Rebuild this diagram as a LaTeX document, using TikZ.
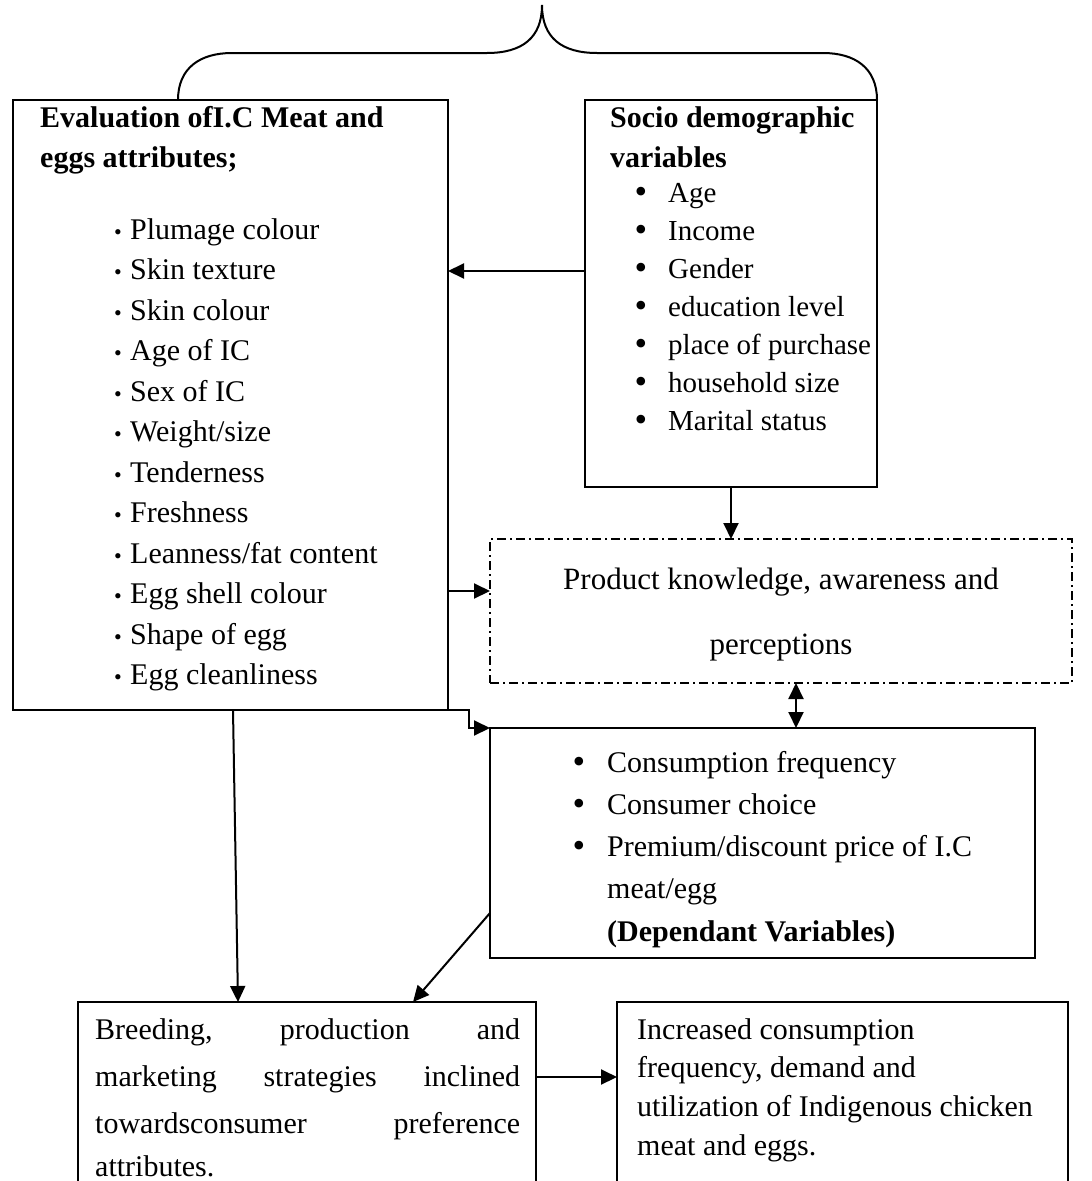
\documentclass[tikz,border=0pt]{standalone}
\usepackage{fontspec}
\setmainfont{Liberation Serif}
\usetikzlibrary{arrows.meta}
\tikzset{
  box/.style={draw,line width=2pt,outer sep=0pt,inner sep=0pt,anchor=north west},
  frame/.style={outer sep=0pt,inner sep=0pt,anchor=north west},
  conn/.style={line width=2pt,-{Triangle[length=16pt,width=15pt]}},
  dconn/.style={line width=2pt,{Triangle[length=16pt,width=15pt]}-{Triangle[length=16pt,width=15pt]}},
  txt/.style={anchor=base west,inner sep=0pt,font=\fontsize{30}{40}\selectfont},
  stxt/.style={anchor=base west,inner sep=0pt,font=\fontsize{29}{40}\selectfont},
  btxt/.style={txt,font=\fontsize{30}{40}\selectfont\bfseries},
  sbul/.style={anchor=base,inner sep=0pt,font=\fontsize{22}{26}\selectfont},
  bbul/.style={anchor=base,inner sep=0pt,font=\fontsize{36}{40}\selectfont},
  dashbox/.style={draw,line width=1.5pt,outer sep=0pt,inner sep=0pt,anchor=north west,dash pattern=on 9pt off 4pt on 2pt off 4pt}
}
\begin{document}
\begin{tikzpicture}[x=1pt,y=-1pt]
\useasboundingbox (0,0) rectangle (1092,1181);
\clip (0,0) rectangle (1092,1181);
% brace
\draw[line width=2pt] (178,100) .. controls (178,68) and (200,53) .. (232,53) -- (487,53)
  .. controls (522,53) and (542,38) .. (542,5)
  .. controls (542,38) and (562,53) .. (597,53) -- (823,53)
  .. controls (855,53) and (877,68) .. (877,100);
% boxes
\node[box,minimum width=435pt,minimum height=610pt] (eval) at (13,100) {};
\node[box,minimum width=292pt,minimum height=387pt] (socio) at (585,100) {};
\node[dashbox,minimum width=582pt,minimum height=144pt] (know) at (490,539) {};
\node[box,minimum width=545pt,minimum height=230pt] (dep) at (490,728) {};
\node[frame,minimum width=458pt,minimum height=180pt] (breed) at (78,1002) {};
\draw[line width=2pt] (78,1200) -- (breed.north west) -- (breed.north east) -- (536,1200);
\node[frame,minimum width=451pt,minimum height=180pt] (incr) at (617,1002) {};
\draw[line width=2pt] (617,1200) -- (incr.north west) -- (incr.north east) -- (1068,1200);
% texts: evaluation box
\node[btxt] (e1) at (40,127) {Evaluation ofI.C Meat and};
\node[btxt] (e2) at (40,167) {eggs attributes;};
\foreach \t [count=\i] in {Plumage colour,Skin texture,Skin colour,Age of IC,Sex of IC,Weight/size,Tenderness,Freshness,Leanness/fat content,Egg shell colour,Shape of egg,Egg cleanliness}{
  \node[sbul] (eb\i) at (118,{239+40.5*(\i-1)}) {•};
  \node[txt] (et\i) at (130,{239+40.5*(\i-1)}) {\t};
}
% socio box
\node[btxt] (s1) at (610,127) {Socio demographic};
\node[btxt] (s2) at (610,167) {variables};
\foreach \t [count=\i] in {Age,Income,Gender,education level,place of purchase,household size,Marital status}{
  \node[bbul] (sb\i) at (641,{203+38*(\i-1)}) {•};
  \node[stxt] (st\i) at (668,{202+38*(\i-1)}) {\t};
}
% knowledge box
\node[txt,anchor=base,font=\fontsize{31}{40}\selectfont] (k1) at (781,589) {Product knowledge, awareness and};
\node[txt,anchor=base,font=\fontsize{31}{40}\selectfont] (k2) at (781,654) {perceptions};
% dependent box
\node[bbul] (db1) at (579,773) {•};
\node[txt] (dt1) at (607,772) {Consumption frequency};
\node[bbul] (db2) at (579,815) {•};
\node[txt] (dt2) at (607,814) {Consumer choice};
\node[bbul] (db3) at (579,857) {•};
\node[txt] (dt3) at (607,856) {Premium/discount price of I.C};
\node[txt] (dt4) at (607,898) {meat/egg};
\node[btxt] (dt5) at (607,941) {(Dependant Variables)};
% breeding box
\node[txt] (b1) at (95,1039) {\hbox to 425pt{Breeding,\hfill production\hfill and}};
\node[txt] (b2) at (95,1086) {\hbox to 425pt{marketing\hfill strategies\hfill inclined}};
\node[txt] (b3) at (95,1133) {\hbox to 425pt{towardsconsumer\hfill preference}};
\node[txt] (b4) at (95,1176) {attributes.};
% increased box
\node[txt] (i1) at (637,1039) {Increased consumption};
\node[txt] (i2) at (637,1077) {frequency, demand and};
\node[txt] (i3) at (637,1116) {utilization of Indigenous chicken};
\node[txt] (i4) at (637,1155) {meat and eggs.};
% connectors
\draw[conn] (socio.west |- 0,271) -- (eval.east |- 0,271);
\draw[conn] (socio.south -| 731,0) -- (know.north -| 731,0);
\draw[conn] (eval.east |- 0,591) -- (know.west |- 0,591);
\draw[dconn] (know.south -| 796,0) -- (dep.north -| 796,0);
\draw[conn] (eval.south east) -- (469,710) -- (469,728) -- (dep.north west);
\draw[conn] (eval.south -| 233,0) -- (breed.north -| 238,0);
\draw[conn] (dep.west |- 0,913) -- (breed.north -| 413,0);
\draw[conn] (breed.east |- 0,1077) -- (incr.west |- 0,1077);
\end{tikzpicture}
\end{document}
